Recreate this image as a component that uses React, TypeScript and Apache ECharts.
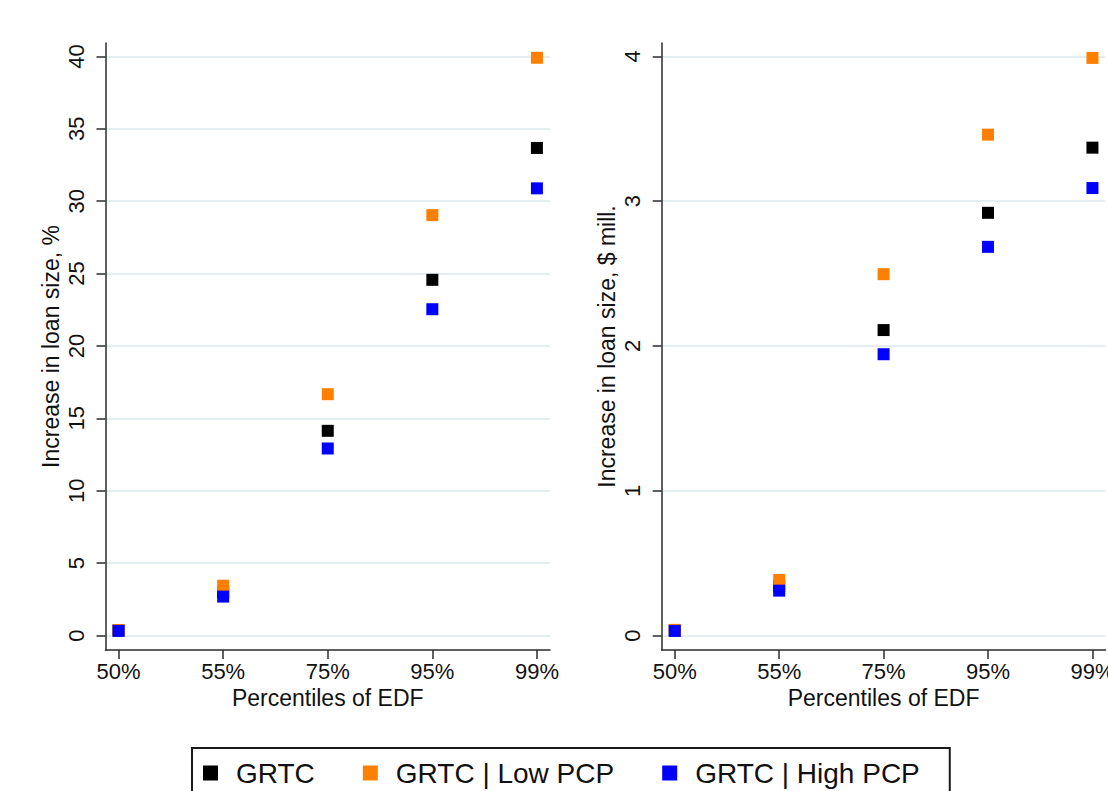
import React, { useEffect, useRef } from "react";
import * as echarts from "echarts";

const categories = ["50%", "55%", "75%", "95%", "99%"];
const seriesNames = ["GRTC", "GRTC | Low PCP", "GRTC | High PCP"];
const seriesColors = ["#000000", "#ff8000", "#0000ff"];

// Left panel: Increase in loan size, %
const pctGRTC = [0.35, 3.0, 14.14, 24.57, 33.68];
const pctLow = [0.38, 3.44, 16.67, 29.04, 39.91];
const pctHigh = [0.32, 2.69, 12.92, 22.54, 30.89];

// Right panel: Increase in loan size, $ mill.
const milGRTC = [0.035, 0.34, 2.11, 2.92, 3.37];
const milLow = [0.039, 0.384, 2.496, 3.46, 3.99];
const milHigh = [0.032, 0.31, 1.943, 2.685, 3.091];

const pctTicks = [0, 5, 10, 15, 20, 25, 30, 35, 40];
const milTicks = [0, 1, 2, 3, 4];
const catTicks = [0, 1, 2, 3, 4];

const FONT = "'Liberation Sans', Arial, Helvetica, sans-serif";
const AXIS_COLOR = "#2b2b2b";
const GRID_COLOR = "#e4eef0";

function toPoints(values: number[]) {
  return values.map((v, i) => [i, v]);
}

function xAxisFor(gridIndex: number, max: number) {
  return {
    type: "value",
    gridIndex,
    min: -0.125,
    max,
    name: "Percentiles of EDF",
    nameLocation: "middle",
    nameGap: 34,
    nameTextStyle: { fontFamily: FONT, fontSize: 23, color: "#111" },
    axisLine: { show: true, onZero: false, lineStyle: { color: AXIS_COLOR, width: 1.5 } },
    axisTick: { show: true, length: 9, customValues: catTicks, lineStyle: { color: AXIS_COLOR, width: 1.5 } },
    axisLabel: {
      show: true,
      customValues: catTicks,
      margin: 10,
      fontFamily: FONT,
      fontSize: 22,
      color: "#111",
      hideOverlap: false,
      formatter: (v: number) => categories[Math.round(v)] ?? "",
    },
    splitLine: { show: false },
  };
}

function yAxisFor(gridIndex: number, min: number, max: number, ticks: number[], name: string) {
  return {
    type: "value",
    gridIndex,
    min,
    max,
    name,
    nameLocation: "middle",
    nameGap: 43,
    nameTextStyle: { fontFamily: FONT, fontSize: 23, color: "#111" },
    axisLine: { show: true, onZero: false, lineStyle: { color: AXIS_COLOR, width: 1.5 } },
    axisTick: { show: true, length: 9, customValues: ticks, lineStyle: { color: AXIS_COLOR, width: 1.5 } },
    axisLabel: {
      show: true,
      customValues: ticks,
      rotate: 90,
      margin: 18,
      fontFamily: FONT,
      fontSize: 22,
      color: "#111",
    },
    splitLine: { show: true, lineStyle: { color: GRID_COLOR, width: 2 } },
  };
}

function scatter(name: string, color: string, values: number[], axisIndex: number) {
  return {
    type: "scatter",
    name,
    xAxisIndex: axisIndex,
    yAxisIndex: axisIndex,
    symbol: "rect",
    symbolSize: 12,
    itemStyle: { color, opacity: 1 },
    data: toPoints(values),
  };
}

export default function App() {
  const ref = useRef<HTMLDivElement>(null);

  useEffect(() => {
    if (!ref.current) return;
    const chart = echarts.init(ref.current, undefined, { renderer: "svg" });
    const option = {
      animation: false,
      backgroundColor: "#ffffff",
      textStyle: { fontFamily: FONT },
      grid: [
        { left: 105.5, right: 558, top: 43, bottom: 141, containLabel: false, outerBoundsMode: "none" },
        { left: 661.7, right: 2.5, top: 43, bottom: 141, containLabel: false, outerBoundsMode: "none" },
      ],
      xAxis: [xAxisFor(0, 4.125), xAxisFor(1, 4.125)],
      yAxis: [
        yAxisFor(0, -1, 40.93, pctTicks, "Increase in loan size, %"),
        yAxisFor(1, -0.1, 4.093, milTicks, "Increase in loan size, $ mill."),
      ],
      legend: {
        show: true,
        data: seriesNames,
        left: 192,
        top: 748,
        orient: "horizontal",
        icon: "rect",
        itemWidth: 15,
        itemHeight: 15,
        itemGap: 48,
        padding: [11, 30, 30, 11],
        borderColor: "#1a1a1a",
        borderWidth: 2,
        borderRadius: 0,
        selectedMode: false,
        textStyle: { fontFamily: FONT, fontSize: 28, color: "#111", padding: [0, 0, 0, 13] },
      },
      series: [
        scatter(seriesNames[0], seriesColors[0], pctGRTC, 0),
        scatter(seriesNames[1], seriesColors[1], pctLow, 0),
        scatter(seriesNames[2], seriesColors[2], pctHigh, 0),
        scatter(seriesNames[0], seriesColors[0], milGRTC, 1),
        scatter(seriesNames[1], seriesColors[1], milLow, 1),
        scatter(seriesNames[2], seriesColors[2], milHigh, 1),
      ],
    };
    chart.setOption(option as any);
    return () => chart.dispose();
  }, []);

  return (
    <div
      ref={ref}
      style={{ position: "absolute", left: 0, top: 0, width: 1108, height: 791, background: "#fff" }}
    />
  );
}
